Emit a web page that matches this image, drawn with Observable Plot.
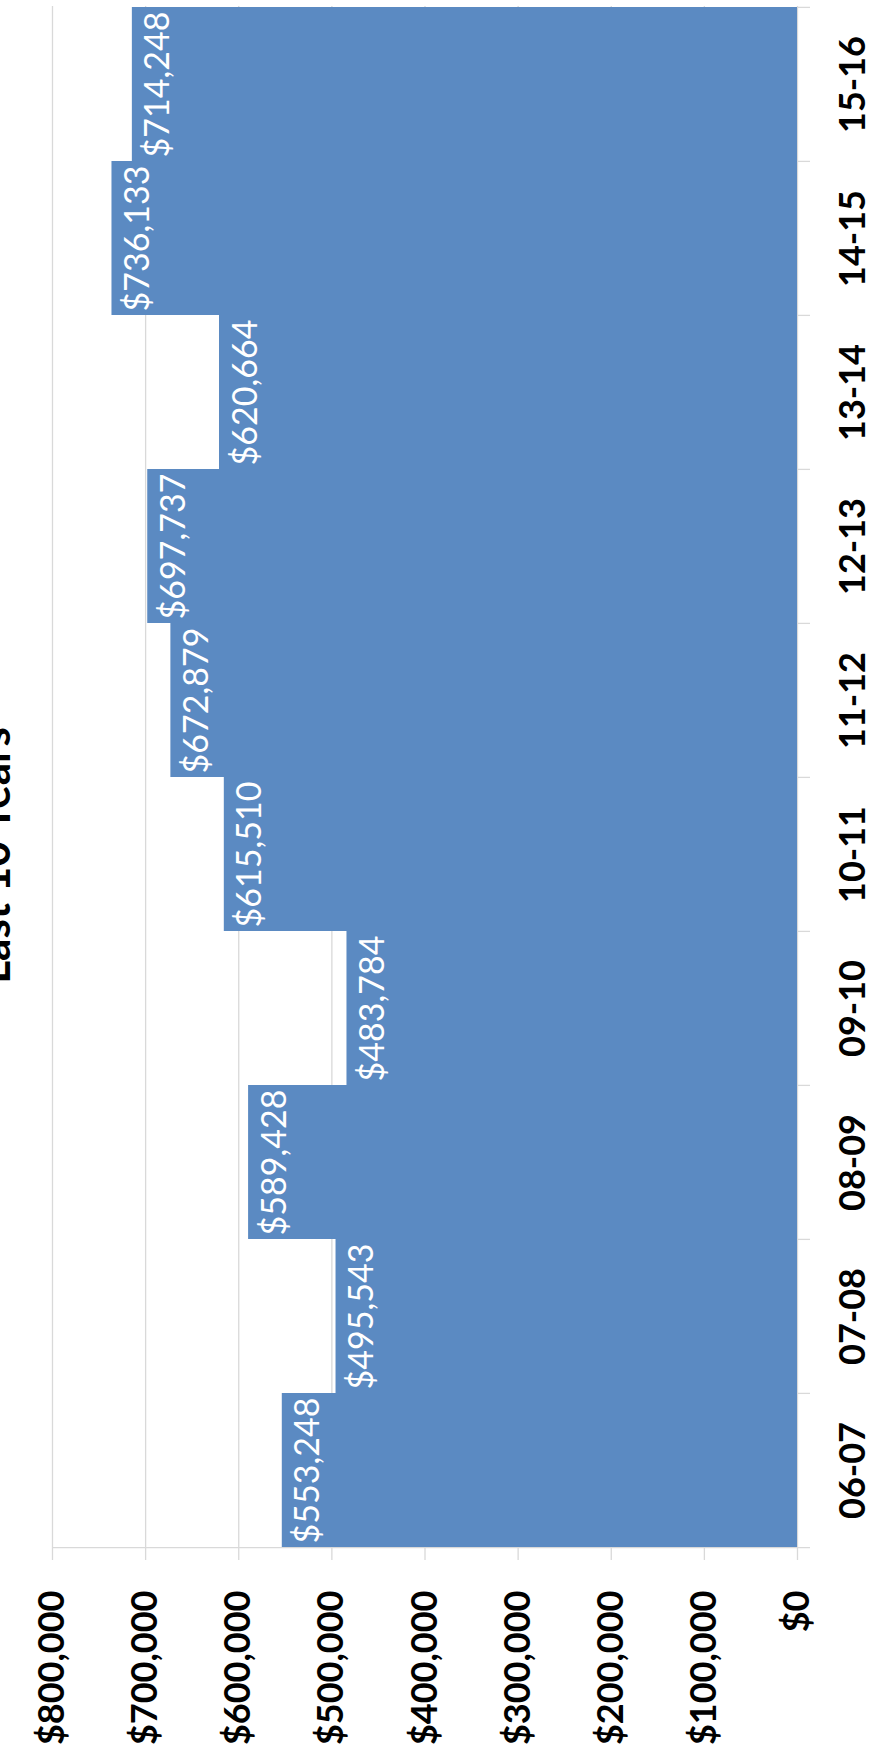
<!DOCTYPE html>
<html>
<head>
<meta charset="utf-8">
<script src="https://cdn.jsdelivr.net/npm/d3@7"></script>
<script src="https://cdn.jsdelivr.net/npm/@observablehq/plot@0.6"></script>
<style>
  html, body { margin: 0; padding: 0; background: #fff; }
  #chart svg { display: block; }
</style>
</head>
<body>
<div id="chart"></div>
<script>
const title = "Last 10 Years";
const categories = ["06-07", "07-08", "08-09", "09-10", "10-11", "11-12", "12-13", "13-14", "14-15", "15-16"];
const values = [553248, 495543, 589428, 483784, 615510, 672879, 697737, 620664, 736133, 714248];
const tickValues = [0, 100000, 200000, 300000, 400000, 500000, 600000, 700000, 800000];

const data = categories.map((c, i) => ({cat: c, value: values[i]}));
const fmt = d3.format(",");
const money = v => "$" + fmt(v);

const W = 873, H = 1752;
const mt = 6, mb = 204, ml = 52, mr = 76;
const bw = (H - mt - mb) / categories.length;
const grid = "#d9d9d9";
const barColor = "#5b8ac2";

const chart = Plot.plot({
  width: W,
  height: H,
  marginTop: mt,
  marginBottom: mb,
  marginLeft: ml,
  marginRight: mr,
  style: {fontFamily: "Lato, 'Open Sans', sans-serif", background: "white", overflow: "visible"},
  x: {domain: [0, 800000], reverse: true, axis: null},
  y: {domain: categories.slice().reverse(), padding: 0, axis: null},
  marks: [
    Plot.ruleX(tickValues, {x: d => d, stroke: grid, strokeWidth: 1.3, insetBottom: -12}),
    Plot.barX(data, {x: "value", y: "cat", fill: barColor}),
    Plot.ruleY(categories, {y: d => d, dy: -bw / 2, x1: 0, x2: 0, insetRight: -13, stroke: grid, strokeWidth: 1.3}),
    Plot.ruleY([categories[0]], {y: d => d, dy: bw / 2, x1: 800000, x2: 0, insetRight: -13, stroke: grid, strokeWidth: 1.3}),
    Plot.text(data, {
      x: "value", y: "cat", text: d => money(d.value),
      rotate: -90, textAnchor: "middle", lineAnchor: "top", dx: 13,
      fill: "white", fontSize: 34
    }),
    Plot.text(categories, {
      y: d => d, text: d => d, frameAnchor: "right", dx: 42,
      rotate: -90, textAnchor: "middle", lineAnchor: "top",
      fontSize: 36, fontWeight: "bold", fill: "black"
    }),
    Plot.text(tickValues, {
      x: d => d, text: d => money(d), frameAnchor: "bottom", dy: 42,
      rotate: -90, textAnchor: "end", lineAnchor: "middle",
      fontSize: 36, fontWeight: "bold", fill: "black"
    }),
    Plot.text([title], {
      text: d => d, frameAnchor: "left", dx: -43, dy: 78,
      rotate: -90, textAnchor: "middle", lineAnchor: "bottom",
      fontSize: 44, fontWeight: "bold", fill: "black"
    })
  ]
});
document.getElementById("chart").appendChild(chart);
</script>
</body>
</html>
